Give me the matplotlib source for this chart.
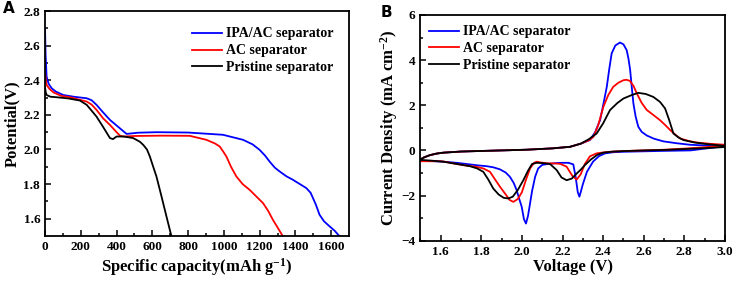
import matplotlib
matplotlib.use('Agg')
import matplotlib.pyplot as plt

plt.rcParams['font.family'] = ['Liberation Serif', 'DejaVu Serif']
plt.rcParams['font.weight'] = 'bold'
plt.rcParams['mathtext.fontset'] = 'custom'
plt.rcParams['mathtext.rm'] = 'Liberation Serif:bold'
plt.rcParams['mathtext.bf'] = 'Liberation Serif:bold'
plt.rcParams['mathtext.default'] = 'bf'

labels = ['IPA/AC separator', 'AC separator', 'Pristine separator']
colours = ['#0000ff', '#ff0000', '#000000']

# A: discharge curves (capacity mAh/g, potential V)
cap_ipa = [0, 3, 9, 20, 37, 60, 102, 160, 233, 260, 288, 320, 363, 410, 456, 520, 623, 800, 995,
           1107, 1160, 1200, 1230, 1256, 1285, 1312, 1350, 1386, 1425, 1461, 1485, 1498, 1515,
           1535, 1560, 1591, 1620, 1647]
pot_ipa = [2.70, 2.55, 2.42, 2.38, 2.354, 2.335, 2.315, 2.305, 2.296, 2.285, 2.258, 2.22, 2.171,
           2.13, 2.09, 2.097, 2.10, 2.098, 2.085, 2.056, 2.03, 1.998, 1.965, 1.93, 1.895, 1.873,
           1.845, 1.825, 1.80, 1.777, 1.75, 1.72, 1.68, 1.623, 1.585, 1.556, 1.53, 1.498]
cap_ac = [0, 4, 9, 25, 47, 90, 140, 233, 260, 288, 325, 363, 400, 419, 437, 500, 650, 809, 902,
          950, 977, 995, 1014, 1040, 1070, 1105, 1144, 1180, 1219, 1248, 1274, 1300, 1330]
pot_ac = [2.45, 2.40, 2.373, 2.35, 2.33, 2.31, 2.302, 2.277, 2.26, 2.229, 2.18, 2.142, 2.10, 2.08,
          2.075, 2.078, 2.08, 2.079, 2.056, 2.035, 2.017, 1.99, 1.96, 1.90, 1.844, 1.80, 1.767,
          1.73, 1.69, 1.645, 1.594, 1.55, 1.498]
cap_pr = [0, 4, 9, 30, 65, 130, 195, 233, 260, 288, 325, 363, 380, 400, 440, 493, 530, 549, 570,
          586, 605, 623, 651, 679, 707]
pot_pr = [2.36, 2.33, 2.315, 2.305, 2.302, 2.295, 2.283, 2.258, 2.225, 2.19, 2.13, 2.066, 2.06,
          2.075, 2.075, 2.066, 2.045, 2.027, 2.0, 1.96, 1.90, 1.844, 1.73, 1.613, 1.498]

# B: CV loops (voltage V, current density mA/cm2), anodic then cathodic scan
volt_ipa = [1.5, 1.52, 1.547, 1.58, 1.613, 1.7, 1.777, 1.9, 2.02, 2.15, 2.237, 2.29, 2.335, 2.36,
            2.385, 2.40, 2.418, 2.43, 2.442, 2.46, 2.483, 2.50, 2.516, 2.525, 2.533, 2.541, 2.549,
            2.56, 2.573, 2.59, 2.615, 2.65, 2.697, 2.76, 2.828, 2.9, 3.0,
            2.83, 2.7, 2.6, 2.5, 2.45, 2.41, 2.38, 2.35, 2.32, 2.30, 2.288, 2.283, 2.275, 2.265,
            2.253, 2.23, 2.2, 2.171, 2.13, 2.10, 2.08, 2.065, 2.05, 2.04, 2.03, 2.02, 2.01, 1.999,
            1.985, 1.974, 1.96, 1.941, 1.92, 1.892, 1.86, 1.827, 1.78, 1.744, 1.68, 1.613, 1.55, 1.5]
cur_ipa = [-0.40, -0.30, -0.21, -0.14, -0.10, -0.05, -0.03, 0.0, 0.03, 0.09, 0.16, 0.3, 0.46, 0.8,
           1.34, 2.0, 2.82, 3.6, 4.3, 4.65, 4.78, 4.7, 4.44, 4.05, 3.56, 2.8, 2.08, 1.5, 1.05, 0.82,
           0.66, 0.52, 0.40, 0.32, 0.25, 0.22, 0.19,
           0.0, -0.02, -0.04, -0.06, -0.08, -0.13, -0.25, -0.5, -0.95, -1.5, -1.9, -2.05, -1.85,
           -1.2, -0.62, -0.55, -0.55, -0.56, -0.6, -0.64, -0.8, -1.17, -1.8, -2.35, -2.9, -3.24,
           -3.05, -2.5, -2.1, -1.76, -1.45, -1.17, -0.98, -0.84, -0.75, -0.7, -0.66, -0.62, -0.55,
           -0.5, -0.47, -0.46]
volt_ac = [1.5, 1.52, 1.547, 1.58, 1.613, 1.7, 1.777, 1.9, 2.02, 2.15, 2.237, 2.29, 2.33, 2.352,
           2.375, 2.401, 2.425, 2.45, 2.475, 2.5, 2.515, 2.532, 2.55, 2.566, 2.59, 2.615, 2.65,
           2.68, 2.705, 2.73, 2.755, 2.779, 2.82, 2.861, 2.93, 3.0,
           3.0, 2.9, 2.8, 2.7, 2.6, 2.5, 2.45, 2.41, 2.368, 2.335, 2.31, 2.29, 2.27, 2.25, 2.22,
           2.19, 2.17, 2.12, 2.09, 2.073, 2.06, 2.04, 2.02, 2.0, 1.98, 1.958, 1.94, 1.92, 1.892,
           1.865, 1.843, 1.81, 1.777, 1.71, 1.646, 1.62, 1.6, 1.55, 1.5]
cur_ac = [-0.40, -0.30, -0.21, -0.14, -0.10, -0.05, -0.03, 0.0, 0.03, 0.09, 0.16, 0.3, 0.45, 0.6,
          1.1, 1.93, 2.45, 2.82, 3.0, 3.11, 3.13, 3.08, 2.85, 2.52, 2.1, 1.79, 1.55, 1.34, 1.13,
          0.9, 0.7, 0.53, 0.42, 0.35, 0.29, 0.25,
          0.22, 0.14, 0.08, 0.03, 0.0, -0.03, -0.05, -0.08, -0.13, -0.26, -0.6, -1.05, -1.29,
          -1.15, -0.72, -0.6, -0.58, -0.57, -0.53, -0.5, -0.55, -0.8, -1.3, -1.85, -2.15, -2.28,
          -2.2, -1.95, -1.61, -1.25, -0.95, -0.8, -0.73, -0.65, -0.55, -0.5, -0.48, -0.48, -0.48]
volt_pr = [1.5, 1.52, 1.547, 1.58, 1.613, 1.7, 1.777, 1.9, 2.02, 2.15, 2.237, 2.29, 2.33, 2.368,
           2.40, 2.434, 2.47, 2.5, 2.54, 2.573, 2.61, 2.647, 2.68, 2.705, 2.725, 2.746, 2.77,
           2.795, 2.85, 2.91, 3.0,
           3.0, 2.9, 2.8, 2.7, 2.6, 2.5, 2.45, 2.40, 2.37, 2.34, 2.31, 2.29, 2.27, 2.245, 2.22,
           2.195, 2.171, 2.138, 2.10, 2.073, 2.05, 2.03, 2.007, 1.98, 1.955, 1.933, 1.91, 1.885,
           1.859, 1.835, 1.81, 1.78, 1.744, 1.68, 1.613, 1.55, 1.5]
cur_pr = [-0.40, -0.30, -0.21, -0.14, -0.10, -0.05, -0.03, 0.0, 0.03, 0.09, 0.16, 0.3, 0.5, 0.75,
          1.2, 1.79, 2.1, 2.3, 2.45, 2.55, 2.5, 2.37, 2.15, 1.86, 1.35, 0.75, 0.58, 0.46, 0.35,
          0.28, 0.2,
          0.15, 0.1, 0.06, 0.02, 0.0, -0.03, -0.05, -0.1, -0.2, -0.4, -0.65, -0.85, -1.02, -1.25,
          -1.32, -1.2, -0.87, -0.6, -0.56, -0.55, -0.6, -0.9, -1.32, -1.75, -2.05, -2.13, -2.1,
          -1.95, -1.69, -1.3, -0.95, -0.8, -0.7, -0.6, -0.5, -0.45, -0.42]

fig = plt.figure(figsize=(7.37, 2.84), dpi=100)
ax1 = fig.add_axes([0.0611, 0.169, 0.4125, 0.792])
ax2 = fig.add_axes([0.5704, 0.1525, 0.4133, 0.7947])

for x, y, c, lab in zip([cap_ipa, cap_ac, cap_pr], [pot_ipa, pot_ac, pot_pr], colours, labels):
    ax1.plot(x, y, color=c, lw=1.3, label=lab)
for x, y, c, lab in zip([volt_ipa, volt_ac, volt_pr], [cur_ipa, cur_ac, cur_pr], colours, labels):
    ax2.plot(x, y, color=c, lw=1.3, label=lab)

ax1.set_xlim(0, 1700)
ax1.set_ylim(1.5, 2.8)
ax1.set_xticks(range(0, 1700, 200))
ax1.set_xticks(range(0, 1700, 100), minor=True)
ax1.set_yticks([1.6, 1.8, 2.0, 2.2, 2.4, 2.6, 2.8])
ax1.set_yticks([1.7, 1.9, 2.1, 2.3, 2.5, 2.7], minor=True)

ax2.set_xlim(1.5, 3.0)
ax2.set_ylim(-4, 6)
ax2.set_xticks([1.6, 1.8, 2.0, 2.2, 2.4, 2.6, 2.8, 3.0])
ax2.set_xticks([1.5, 1.7, 1.9, 2.1, 2.3, 2.5, 2.7, 2.9], minor=True)
ax2.set_yticks([-4, -2, 0, 2, 4, 6])
ax2.set_yticks([-3, -1, 1, 3, 5], minor=True)

ax1.yaxis.set_major_formatter(matplotlib.ticker.FormatStrFormatter('%.1f'))
ax2.xaxis.set_major_formatter(matplotlib.ticker.FormatStrFormatter('%.1f'))

for ax in (ax1, ax2):
    for s in ax.spines.values():
        s.set_linewidth(1.3)
    ax.tick_params(which='both', direction='in', top=False, right=False, labelsize=9.5, width=1.1)
    ax.tick_params(which='major', length=4)
    ax.tick_params(which='minor', length=2.5)
    for t in ax.get_xticklabels() + ax.get_yticklabels():
        t.set_fontweight('bold')

ax1.set_xlabel('Specific capacity(mAh g$^{-1}$)', fontsize=12, fontweight='bold', labelpad=2)
ax1.set_ylabel('Potential(V)', fontsize=12, fontweight='bold', labelpad=2)
ax2.set_xlabel('Voltage (V)', fontsize=12, fontweight='bold', labelpad=1)
ax2.set_ylabel('Current Density (mA cm$^{-2}$)', fontsize=12, fontweight='bold', labelpad=1)

leg_kw = dict(loc='upper left', frameon=False, prop={'weight': 'bold', 'size': 10},
              handlelength=2.15, handletextpad=0.3, labelspacing=0.28,
              borderaxespad=0, borderpad=0)
ax1.legend(bbox_to_anchor=(0.483, 0.927), **leg_kw)
ax2.legend(bbox_to_anchor=(0.028, 0.954), **leg_kw)

fig.text(0.004, 0.955, 'A', fontsize=11, fontweight='bold', family='DejaVu Sans')
fig.text(0.516, 0.94, 'B', fontsize=11, fontweight='bold', family='DejaVu Sans')

fig.savefig('out.png', dpi=100)
